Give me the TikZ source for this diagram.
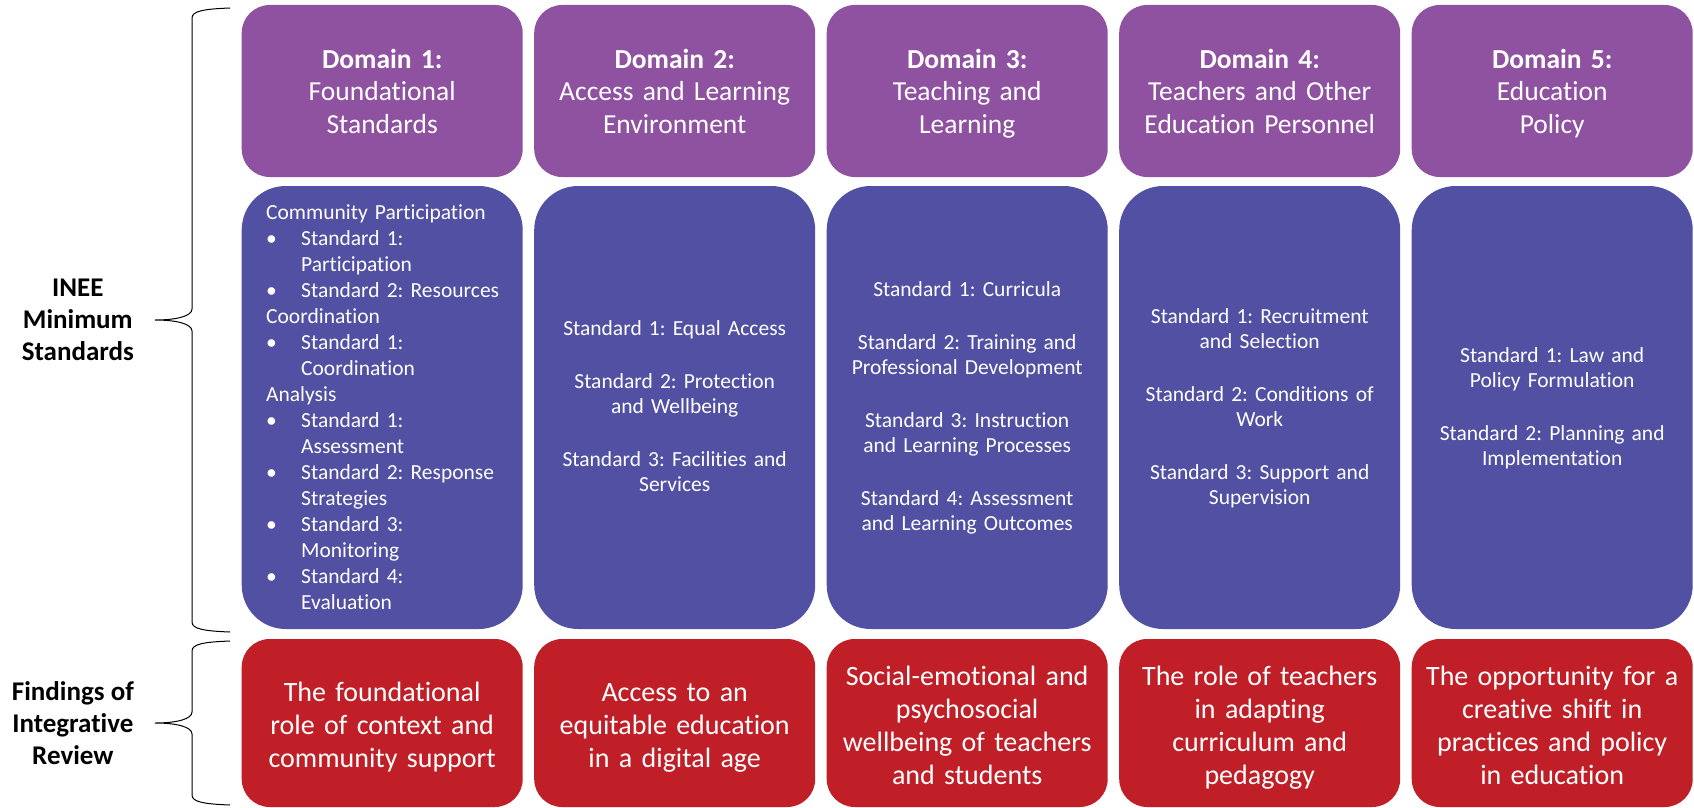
\documentclass[tikz,border=0pt]{standalone}
\usepackage{fontspec}
\setmainfont{Carlito}[Ligatures=NoCommon]
\usepackage{xcolor}
\usetikzlibrary{positioning}
\definecolor{domainpurple}{HTML}{8F52A0}
\definecolor{standardblue}{HTML}{5150A2}
\definecolor{findingred}{HTML}{C01F27}
\newcommand{\tstrut}[1][0pt]{\rule[-.25\baselineskip]{0pt}{\dimexpr\baselineskip+#1\relax}}
\newcommand{\sitem}[1]{\makebox[35pt][l]{\textbullet}\mbox{#1}}
\newcommand{\sindent}{\hspace*{35pt}}
\tikzset{
	cellbox/.style={rectangle, text=white, text width=270pt, align=center, inner sep=0pt, outer sep=0pt, minimum width=281pt},
	domainbox/.style={cellbox, fill=domainpurple, rounded corners=28pt, minimum height=172pt,
		font=\frenchspacing\fontsize{27.5}{32.5}\selectfont,
		execute at begin node={\tstrut[3pt]}, execute at end node=\tstrut},
	standardbox/.style={cellbox, fill=standardblue, rounded corners=44pt, minimum height=443pt,
		font=\frenchspacing\fontsize{21.5}{25.5}\selectfont,
		execute at begin node=\tstrut, execute at end node=\tstrut},
	findingbox/.style={cellbox, fill=findingred, rounded corners=28pt, minimum height=168pt,
		font=\frenchspacing\fontsize{28}{33}\selectfont,
		execute at begin node={\tstrut[7pt]}, execute at end node=\tstrut},
	sidelabel/.style={align=center, inner sep=0pt, font=\bfseries\fontsize{27}{32}\selectfont},
	bracket/.style={line width=1pt}
}

\begin{document}
\begin{tikzpicture}[x=1pt, y=-1pt]
	\path[fill=white, use as bounding box] (0,0) rectangle (1694,808);
	% domains
	\node[domainbox, anchor=north west] (d1) at (241.7,5) {\textbf{Domain 1:}\\Foundational\\Standards};
	\node[domainbox, right=11.5pt of d1] (d2) {\textbf{Domain 2:}\\Access and Learning\\Environment};
	\node[domainbox, right=11.5pt of d2] (d3) {\textbf{Domain 3:}\\Teaching and\\Learning};
	\node[domainbox, right=11.5pt of d3] (d4) {\textbf{Domain 4:}\\Teachers and Other\\Education Personnel};
	\node[domainbox, right=11.5pt of d4] (d5) {\textbf{Domain 5:}\\Education\\Policy};
	% standards
	\node[standardbox, below=9pt of d1, text width=232pt, align=left, font=\frenchspacing\fontsize{21.5}{26}\selectfont] (s1) {Community Participation\\
		\sitem{Standard 1:}\\ \sindent Participation\\
		\sitem{Standard 2: Resources}\\
		Coordination\\
		\sitem{Standard 1:}\\ \sindent Coordination\\
		Analysis\\
		\sitem{Standard 1:}\\ \sindent Assessment\\
		\sitem{Standard 2: Response}\\ \sindent Strategies\\
		\sitem{Standard 3:}\\ \sindent Monitoring\\
		\sitem{Standard 4:}\\ \sindent Evaluation};
	\node[standardbox, below=9pt of d2] (s2) {Standard 1: Equal Access\\[27pt]
		Standard 2: Protection\\and Wellbeing\\[27pt]
		Standard 3: Facilities and\\Services};
	\node[standardbox, below=9pt of d3] (s3) {Standard 1: Curricula\\[27pt]
		Standard 2: Training and\\Professional Development\\[27pt]
		Standard 3: Instruction\\and Learning Processes\\[27pt]
		Standard 4: Assessment\\and Learning Outcomes};
	\node[standardbox, below=9pt of d4] (s4) {Standard 1: Recruitment\\and Selection\\[27pt]
		Standard 2: Conditions of\\Work\\[27pt]
		Standard 3: Support and\\Supervision};
	\node[standardbox, below=9pt of d5] (s5) {Standard 1: Law and\\Policy Formulation\\[27pt]
		Standard 2: Planning and\\Implementation};
	% findings
	\node[findingbox, below=10pt of s1] (f1) {The foundational\\role of context and\\community support};
	\node[findingbox, below=10pt of s2] (f2) {Access to an\\equitable education\\in a digital age};
	\node[findingbox, below=10pt of s3] (f3) {Social-emotional and\\psychosocial\\wellbeing of teachers\\and students};
	\node[findingbox, below=10pt of s4] (f4) {The role of teachers\\in adapting\\curriculum and\\pedagogy};
	\node[findingbox, below=10pt of s5] (f5) {The opportunity for a\\creative shift in\\practices and policy\\in education};
	% side labels
	\coordinate (tipA) at (155,320);
	\coordinate (tipB) at (155,723);
	\node[sidelabel, left=21pt of tipA] (inee) {INEE\\Minimum\\Standards};
	\node[sidelabel, left=21pt of tipB] (review) {Findings of\\Integrative\\Review};
	\draw[bracket] (230,8) .. controls (204,9) and (192,11) .. (192,18) -- (192,309)
		.. controls (192,316) and (177,320) .. (tipA) .. controls (177,320) and (192,324) .. (192,331)
		-- (192,622) .. controls (192,629) and (204,631) .. (230,632);
	\draw[bracket] (230,641) .. controls (204,642) and (192,644) .. (192,651) -- (192,712)
		.. controls (192,719) and (177,723) .. (tipB) .. controls (177,723) and (192,727) .. (192,734)
		-- (192,795) .. controls (192,802) and (204,804) .. (230,805);
\end{tikzpicture}
\end{document}
